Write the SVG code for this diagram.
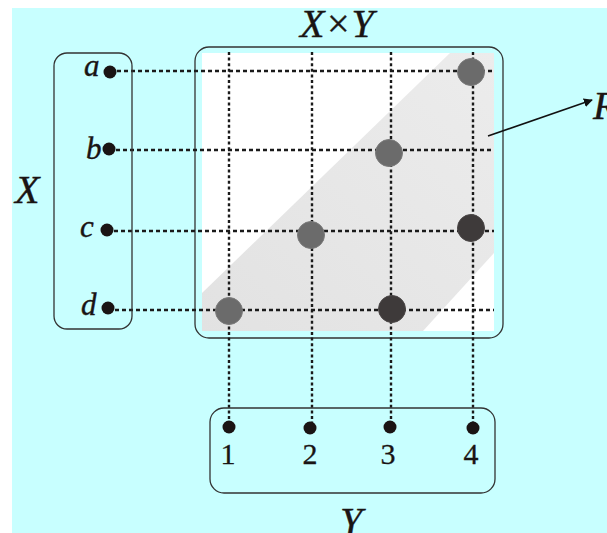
<svg xmlns="http://www.w3.org/2000/svg" width="607" height="533" viewBox="0 0 607 533">
<defs>
<style>
.it{font-family:"Liberation Serif","Times New Roman",serif;font-style:italic;fill:#1a1414;stroke:#1a1414;stroke-width:0.4}
.num{font-family:"Liberation Serif","Times New Roman",serif;fill:#1a1414;stroke:#1a1414;stroke-width:0.3;font-size:30px;text-anchor:middle}
.box{fill:none;stroke:#333;stroke-width:1.3}
.dot{fill:#1a1414}
.hd{stroke:#1a1a1a;stroke-width:2.6;stroke-dasharray:4 3;fill:none}
.vd{stroke:#1a1a1a;stroke-width:2.4;stroke-dasharray:3 2.6;fill:none}
.g{fill:#6b6b6b;stroke:#7a7a7a;stroke-width:1}
.dk{fill:#3e3a3a;stroke:#4a4646;stroke-width:1}
</style>
<linearGradient id="band" x1="0" y1="1" x2="1" y2="0">
<stop offset="0" stop-color="#e2e2e2"/>
<stop offset="1" stop-color="#ececec"/>
</linearGradient>
<marker id="ah" viewBox="0 0 10 10" refX="9" refY="5" markerWidth="9" markerHeight="9" markerUnits="userSpaceOnUse" orient="auto">
<path d="M0,0 L10,5 L0,10 z" fill="#111"/>
</marker>
</defs>
<rect x="12" y="8" width="595" height="525" fill="#c8ffff"/>

<g id="XxY">
<rect x="202" y="53" width="292" height="278" fill="#ffffff"/>
<polygon points="202,293 450,53 494,53 494,253 423,331 202,331" fill="url(#band)"/>
<rect class="box" x="195" y="47" width="308" height="291" rx="14"/>
<text class="it" x="300" y="37" font-size="40">X×Y</text>
</g>

<g id="connectors">
<line class="hd" x1="110" y1="71" x2="494" y2="71"/>
<line class="hd" x1="109" y1="150" x2="494" y2="150"/>
<line class="hd" x1="107" y1="231" x2="494" y2="231"/>
<line class="hd" x1="108" y1="310" x2="494" y2="310"/>
<line class="vd" x1="229" y1="52" x2="229" y2="427"/>
<line class="vd" x1="312" y1="52" x2="312" y2="428"/>
<line class="vd" x1="391" y1="52" x2="391" y2="427"/>
<line class="vd" x1="473" y1="52" x2="473" y2="428"/>
<line x1="488" y1="136" x2="592" y2="100" stroke="#111" stroke-width="1.6" marker-end="url(#ah)"/>
</g>

<g id="pairs">
<circle class="g" cx="471" cy="72" r="13.5"/>
<circle class="g" cx="389" cy="153" r="13.5"/>
<circle class="g" cx="311" cy="235" r="13.5"/>
<circle class="dk" cx="471" cy="228" r="13.5"/>
<circle class="g" cx="229" cy="311" r="13.5"/>
<circle class="dk" cx="392" cy="309" r="13.5"/>
</g>

<g id="X">
<rect class="box" x="54" y="53" width="78" height="276" rx="13"/>
<text class="it" x="15" y="203" font-size="40">X</text>
<circle class="dot" cx="110" cy="72" r="6.5"/>
<circle class="dot" cx="109" cy="149" r="6.5"/>
<circle class="dot" cx="107" cy="230" r="6.5"/>
<circle class="dot" cx="108" cy="308" r="6.5"/>
<text class="it" x="84" y="76" font-size="31">a</text>
<text class="it" x="86" y="159" font-size="31">b</text>
<text class="it" x="80" y="237" font-size="31">c</text>
<text class="it" x="81" y="315" font-size="31">d</text>
</g>

<g id="Y">
<rect class="box" x="210" y="408" width="285" height="85" rx="14"/>
<circle class="dot" cx="229" cy="427" r="6.5"/>
<circle class="dot" cx="310" cy="428" r="6.5"/>
<circle class="dot" cx="390" cy="427" r="6.5"/>
<circle class="dot" cx="473" cy="428" r="6.5"/>
<text class="num" x="228" y="464">1</text>
<text class="num" x="310" y="464">2</text>
<text class="num" x="388" y="464">3</text>
<text class="num" x="471" y="464">4</text>
<text class="it" x="340" y="535" font-size="40">Y</text>
</g>

<g id="R">
<text class="it" x="593" y="119" font-size="40">R</text>
</g>
</svg>
